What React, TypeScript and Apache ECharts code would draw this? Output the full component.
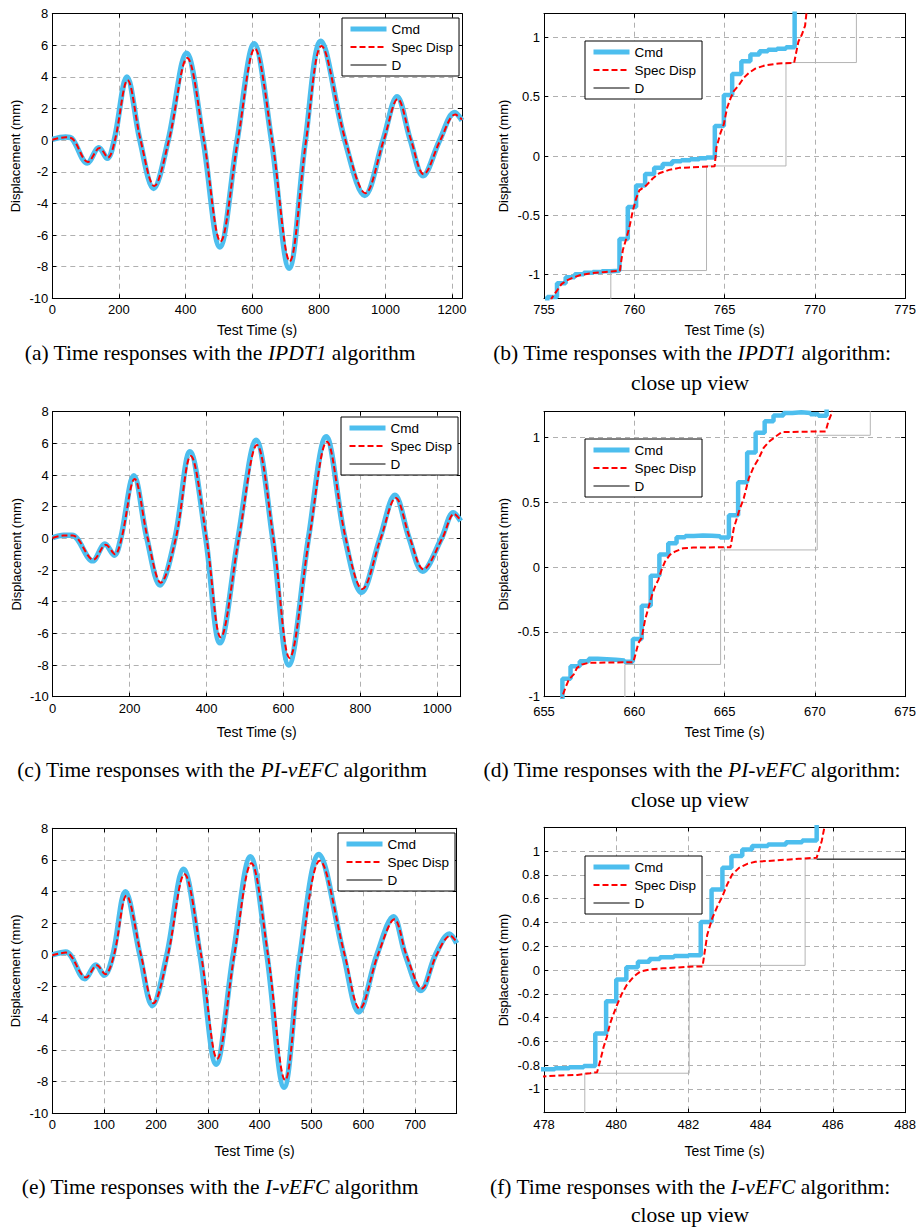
import React, { useEffect, useRef } from "react";
import * as echarts from "echarts";

// ---------- (a) IPDT1, full test ----------
const A_CMD: number[][] = [[0,0.05],[40,0.2],[58,0.12],[105,-1.45],[140,-0.48],[165,-1.15],[186,0],[224,4.0],[263,0],[304,-3.05],[348,0],[403,5.5],[453,0],[503,-6.75],[555,0],[606,6.1],[658,0],[711,-8.1],[760,0],[806,6.25],[878,0],[938,-3.5],[993,0],[1035,2.75],[1075,0],[1113,-2.25],[1163,0],[1208,1.75],[1230,1.25]];
const A_SPEC: number[][] = [[0,0.03],[40,0.18],[60,0.1],[107,-1.38],[142,-0.5],[167,-1.1],[188,0],[226,3.8],[265,0],[306,-2.9],[350,0],[405,5.2],[455,0],[505,-6.4],[557,0],[608,5.8],[660,0],[713,-7.65],[762,0],[808,5.95],[880,0],[940,-3.35],[995,0],[1037,2.6],[1077,0],[1115,-2.15],[1165,0],[1210,1.62],[1230,1.3]];
const A_D = A_SPEC;

// ---------- (b) IPDT1, close up ----------
const B_CMD: number[][] = [[755.0,-1.35],[755.18,-1.19],[755.72,-1.073],[756.2,-1.023],[756.7,-0.998],[757.2,-0.985],[757.7,-0.978],[758.2,-0.972],[758.7,-0.968],[759.18,-0.70],[759.64,-0.43],[760.1,-0.249],[760.6,-0.151],[761.1,-0.10],[761.57,-0.067],[762.1,-0.045],[762.6,-0.035],[763.1,-0.028],[763.6,-0.02],[764.0,-0.012],[764.46,0.254],[764.96,0.514],[765.42,0.692],[765.93,0.798],[766.43,0.855],[766.93,0.883],[767.4,0.895],[767.9,0.905],[768.4,0.918],[768.88,1.3],[771,1.3]];
const B_SPEC: number[][] = [[755.3,-1.3],[755.42,-1.2],[755.7,-1.14],[755.97,-1.08],[756.25,-1.05],[756.61,-1.025],[756.98,-1.006],[757.53,-0.99],[758.26,-0.98],[759.2,-0.968],[759.37,-0.79],[759.55,-0.70],[759.73,-0.6],[759.92,-0.46],[760.1,-0.36],[760.28,-0.29],[760.65,-0.25],[761.02,-0.19],[761.38,-0.146],[761.93,-0.117],[762.48,-0.10],[763.04,-0.096],[764.45,-0.087],[764.55,0.072],[764.78,0.198],[764.96,0.268],[765.14,0.407],[765.33,0.486],[765.51,0.547],[765.79,0.598],[766.06,0.659],[766.34,0.70],[766.7,0.737],[767.25,0.765],[767.99,0.78],[768.85,0.785],[769.09,0.966],[769.27,1.02],[769.46,1.1],[769.6,1.3]];
const B_D: number[][] = [[755,-1.3],[758.7,-0.966],[764.0,-0.084],[768.4,0.788],[772.3,1.3],[776,1.3]];

// ---------- (c) PI-vEFC, full test ----------
const C_CMD: number[][] = [[0,0.04],[28,0.2],[50,0.2],[104,-1.42],[136,-0.36],[160,-1.07],[177,0],[211,3.95],[245,0],[279,-2.95],[318,0],[357,5.47],[398,0],[435,-6.6],[482,0],[529,6.2],[572,0],[614,-8.0],[665,0],[711,6.42],[760,0],[803,-3.42],[851,0],[890,2.72],[927,0],[962,-2.07],[1011,0],[1042,1.62],[1061,1.1]];
const C_SPEC: number[][] = [[0,0.02],[28,0.18],[52,0.18],[106,-1.35],[138,-0.4],[162,-1.0],[179,0],[213,3.75],[247,0],[281,-2.8],[320,0],[359,5.2],[400,0],[437,-6.25],[484,0],[531,5.9],[574,0],[616,-7.55],[667,0],[713,6.1],[762,0],[805,-3.2],[853,0],[892,2.55],[929,0],[964,-1.95],[1013,0],[1044,1.55],[1061,1.15]];
const C_D = C_SPEC;

// ---------- (d) PI-vEFC, close up ----------
const D_CMD: number[][] = [[655,-1.1],[656.02,-0.862],[656.47,-0.765],[656.98,-0.726],[657.48,-0.708],[657.98,-0.71],[658.48,-0.715],[658.98,-0.72],[659.45,-0.73],[659.92,-0.554],[660.41,-0.298],[660.91,-0.067],[661.39,0.097],[661.88,0.184],[662.34,0.23],[662.82,0.241],[663.3,0.245],[663.8,0.243],[664.3,0.238],[664.75,0.228],[665.24,0.40],[665.75,0.656],[666.25,0.886],[666.72,1.037],[667.22,1.126],[667.71,1.17],[668.26,1.19],[668.75,1.195],[669.25,1.19],[669.75,1.18],[670.2,1.168],[670.65,1.3],[672,1.3]];
const D_SPEC: number[][] = [[655.95,-1.05],[656.01,-1.0],[656.19,-0.93],[656.38,-0.867],[656.65,-0.828],[656.83,-0.777],[657.11,-0.751],[657.48,-0.738],[659.95,-0.734],[660.23,-0.585],[660.41,-0.546],[660.6,-0.405],[660.78,-0.315],[660.96,-0.226],[661.15,-0.149],[661.33,-0.098],[661.51,-0.021],[661.7,0.043],[661.97,0.095],[662.25,0.12],[662.71,0.146],[663.26,0.151],[665.33,0.154],[665.51,0.30],[665.79,0.428],[666.06,0.531],[666.34,0.685],[666.61,0.774],[666.89,0.838],[667.16,0.92],[667.44,0.966],[667.8,1.005],[668.17,1.043],[670.6,1.048],[670.74,1.12],[670.92,1.185],[671.0,1.3]];
const D_D: number[][] = [[655,-1.1],[659.48,-0.751],[664.78,0.133],[670.13,1.018],[673.07,1.3],[676,1.3]];

// ---------- (e) I-vEFC, full test ----------
const E_CMD: number[][] = [[0,0],[26,0.18],[63,-1.5],[84,-0.63],[100,-1.28],[117,0],[141,4.0],[169,0],[193,-3.2],[221,0],[253,5.41],[285,0],[316,-6.9],[349,0],[382,6.2],[414,0],[447,-8.35],[478,0],[514,6.35],[562,0],[591,-3.6],[626,0],[658,2.42],[681,0],[711,-2.25],[739,0],[766,1.33],[780,0.74]];
const E_SPEC: number[][] = [[0,-0.02],[26,0.15],[65,-1.42],[86,-0.65],[102,-1.22],[119,0],[143,3.75],[171,0],[195,-3.05],[223,0],[255,5.1],[287,0],[318,-6.55],[351,0],[384,5.8],[416,0],[449,-7.9],[480,0],[516,5.95],[564,0],[593,-3.4],[628,0],[660,2.25],[683,0],[713,-2.12],[741,0],[768,1.22],[780,0.8]];
const E_D = E_SPEC;

// ---------- (f) I-vEFC, close up ----------
const F_CMD: number[][] = [[477.9,-0.835],[478.3,-0.826],[478.7,-0.818],[479.1,-0.808],[479.42,-0.535],[479.72,-0.262],[480.0,-0.079],[480.28,0.023],[480.6,0.07],[480.92,0.093],[481.21,0.107],[481.6,0.117],[482.0,0.125],[482.34,0.403],[482.64,0.676],[482.94,0.859],[483.19,0.958],[483.49,1.014],[483.76,1.043],[484.2,1.055],[484.7,1.075],[485.15,1.09],[485.55,1.3],[487,1.3]];
const F_SPEC: number[][] = [[477.9,-0.896],[478.46,-0.887],[478.92,-0.882],[479.28,-0.868],[479.47,-0.859],[479.56,-0.76],[479.65,-0.648],[479.74,-0.563],[479.83,-0.45],[479.93,-0.366],[480.02,-0.296],[480.16,-0.197],[480.29,-0.127],[480.48,-0.056],[480.66,-0.014],[480.94,0.006],[481.3,0.014],[482.04,0.028],[482.39,0.03],[482.52,0.296],[482.66,0.437],[482.8,0.535],[482.94,0.62],[483.07,0.718],[483.21,0.803],[483.4,0.859],[483.63,0.893],[483.85,0.91],[484.4,0.921],[485.05,0.935],[485.55,0.944],[485.69,1.085],[485.78,1.225],[485.82,1.3]];
const F_D: number[][] = [[478,-1.3],[479.13,-0.868],[482.02,0.039],[485.23,0.932],[488,0.932]];
const F_D_TAIL: number[][] = [[485.55,0.932],[488,0.932]];

const X_NAME = "Test Time (s)";
const Y_NAME = "Displacement (mm)";

const SANS = "Arial, 'Liberation Sans', sans-serif";
const SERIF = "'Times New Roman', 'Liberation Serif', serif";
const BLUE = "#4DBEEE";
const RED = "#FF0000";
const GRAY = "#B4B4B4";
const GRID_GRAY = "#B0B0B0";
const TICK_FS = 13;
const XNAME_FS = 14;
const YNAME_FS = 13;
const LEGEND_FS = 13.5;
const CAP_FS = 21.5;

type Panel = {
  box: [number, number, number, number];
  x: [number, number, number];
  y: [number, number, number | null];
  yLabelMax: number;
  cmd: number[][];
  spec: number[][];
  d: number[][];
  dTail?: number[][];
  closeUp: boolean;
  legend: [number, number];
  xGap: number;
  yGap: number;
  xMargin: number;
};

const PANELS: Panel[] = [
  { box: [52.3, 13.7, 409.7, 284.6], x: [0, 1230, 200], y: [-10, 8, 2], yLabelMax: 99, cmd: A_CMD, spec: A_SPEC, d: A_D, closeUp: false, legend: [342, 18], xGap: 25, yGap: 30, xMargin: 5 },
  { box: [544, 13.7, 363.3, 284.6], x: [755, 775, 5], y: [-1.2, 1.2, null], yLabelMax: 1.01, cmd: B_CMD, spec: B_SPEC, d: B_D, closeUp: true, legend: [585, 41], xGap: 25, yGap: 34, xMargin: 5 },
  { box: [52.7, 411.7, 408, 285], x: [0, 1061, 200], y: [-10, 8, 2], yLabelMax: 99, cmd: C_CMD, spec: C_SPEC, d: C_D, closeUp: false, legend: [341, 417], xGap: 28, yGap: 30, xMargin: 5 },
  { box: [544, 411.7, 363.3, 285], x: [655, 675, 5], y: [-1, 1.2, 0.5], yLabelMax: 1.01, cmd: D_CMD, spec: D_SPEC, d: D_D, closeUp: true, legend: [585, 439], xGap: 28, yGap: 34, xMargin: 8 },
  { box: [52.3, 828.3, 404.4, 285], x: [0, 780, 100], y: [-10, 8, 2], yLabelMax: 99, cmd: E_CMD, spec: E_SPEC, d: E_D, closeUp: false, legend: [338, 833], xGap: 31, yGap: 30, xMargin: 5 },
  { box: [544, 827.3, 363.3, 285.4], x: [478, 488, 2], y: [-1.2, 1.2, 0.2], yLabelMax: 1.01, cmd: F_CMD, spec: F_SPEC, d: F_D, dTail: F_D_TAIL, closeUp: true, legend: [585, 856], xGap: 31, yGap: 34, xMargin: 5 },
];

const CAPTIONS: { x: number; y: number; pre: string; it: string; post: string }[] = [
  { x: 220, y: 353, pre: "(a) Time responses with the ", it: "IPDT1", post: " algorithm" },
  { x: 692, y: 353, pre: "(b) Time responses with the ", it: "IPDT1", post: " algorithm:" },
  { x: 222, y: 770, pre: "(c) Time responses with the ", it: "PI-vEFC", post: " algorithm" },
  { x: 692, y: 770, pre: "(d) Time responses with the ", it: "PI-vEFC", post: " algorithm:" },
  { x: 220, y: 1187, pre: "(e) Time responses with the ", it: "I-vEFC", post: " algorithm" },
  { x: 690, y: 1187, pre: "(f) Time responses with the ", it: "I-vEFC", post: " algorithm:" },
];
const SUBLINES: { x: number; y: number; text: string }[] = [
  { x: 690, y: 383, text: "close up view" },
  { x: 690, y: 800, text: "close up view" },
  { x: 690, y: 1215, text: "close up view" },
];

function isMultiple(v: number, step: number) {
  const r = v / step;
  return Math.abs(r - Math.round(r)) < 1e-6;
}
function fmt(v: number) {
  if (Math.abs(v) < 1e-9) return "0";
  return String(Number(v.toFixed(2)));
}

function buildOption() {
  const grid: any[] = [];
  const xAxis: any[] = [];
  const yAxis: any[] = [];
  const series: any[] = [];
  const legend: any[] = [];
  const graphic: any[] = [];

  PANELS.forEach((p, i) => {
    const [left, top, width, height] = p.box;
    grid.push({ left, top, width, height, containLabel: false });
    const axisLine = { show: true, onZero: false, lineStyle: { color: "#000", width: 1 } };
    const tick = { show: true, inside: true, length: 4, lineStyle: { color: "#000", width: 1 } };
    const split = { show: true, lineStyle: { color: GRID_GRAY, width: 1, type: [5, 4] } };
    const xStep = p.x[2];
    const yStep = p.y[2] ?? 0.5;
    const xBase: any = { type: "value", gridIndex: i, min: p.x[0], max: p.x[1], interval: xStep };
    const yBase: any = { type: "value", gridIndex: i, min: p.y[0], max: p.y[1] };
    if (p.y[2] != null) yBase.interval = p.y[2];
    else yBase.splitNumber = 5;

    xAxis.push({
      ...xBase,
      position: "bottom",
      axisLine, axisTick: tick, splitLine: split,
      axisLabel: {
        show: true, margin: p.xMargin, color: "#000", fontSize: TICK_FS, fontFamily: SANS,
        formatter: (v: number) => (isMultiple(v, xStep) ? fmt(v) : ""),
      },
      name: X_NAME, nameLocation: "middle", nameGap: p.xGap,
      nameTextStyle: { color: "#000", fontSize: XNAME_FS, fontFamily: SANS },
    });
    xAxis.push({
      ...xBase,
      position: "top",
      axisLine, axisTick: tick, splitLine: { show: false }, axisLabel: { show: false },
    });
    yAxis.push({
      ...yBase,
      position: "left",
      axisLine, axisTick: tick, splitLine: split,
      axisLabel: {
        show: true, margin: 4, color: "#000", fontSize: TICK_FS, fontFamily: SANS,
        formatter: (v: number) => (isMultiple(v, yStep) && Math.abs(v) <= p.yLabelMax ? fmt(v) : ""),
      },
      name: Y_NAME, nameLocation: "middle", nameGap: p.yGap, nameRotate: 90,
      nameTextStyle: { color: "#000", fontSize: YNAME_FS, fontFamily: SANS },
    });
    yAxis.push({
      ...yBase,
      position: "right",
      axisLine, axisTick: tick, splitLine: { show: false }, axisLabel: { show: false },
    });

    const common = {
      type: "line",
      xAxisIndex: 2 * i,
      yAxisIndex: 2 * i,
      symbol: "none",
      showSymbol: false,
      clip: true,
      silent: true,
      smooth: p.closeUp ? false : 0.35,
    };
    series.push({
      ...common, name: "D", data: p.d, step: p.closeUp ? "end" : false, z: 2,
      lineStyle: { color: GRAY, width: 1 }, itemStyle: { color: GRAY },
    });
    series.push({
      ...common, name: "Cmd", data: p.cmd, step: p.closeUp ? "end" : false, z: 3,
      lineStyle: { color: BLUE, width: p.closeUp ? 4.5 : 5.5 }, itemStyle: { color: BLUE },
    });
    series.push({
      ...common, name: "Spec Disp", data: p.spec, z: 4,
      lineStyle: { color: RED, width: 2, type: [6, 3] }, itemStyle: { color: RED },
    });
    if (p.dTail) {
      series.push({
        ...common, name: "D", data: p.dTail, z: 5,
        lineStyle: { color: "#000", width: 1 }, itemStyle: { color: "#000" },
      });
    }

    legend.push({
      left: p.legend[0], top: p.legend[1], orient: "vertical",
      itemWidth: 36, itemHeight: 14, itemGap: 4,
      padding: [4, 6, 4, 6],
      borderColor: "#000", borderWidth: 1, backgroundColor: "#fff",
      selectedMode: false, z: 10,
      itemStyle: { opacity: 0 },
      textStyle: { color: "#000", fontSize: LEGEND_FS, fontFamily: SANS },
      data: [
        { name: "Cmd", lineStyle: { color: BLUE, width: 5 } },
        { name: "Spec Disp", lineStyle: { color: RED, width: 2, type: [6, 3] } },
        { name: "D", lineStyle: { color: "#000", width: 1, type: "solid" } },
      ],
    });
  });

  const rich = {
    n: { fontFamily: SERIF, fontSize: CAP_FS, fill: "#000" },
    i: { fontFamily: SERIF, fontSize: CAP_FS, fontStyle: "italic", fill: "#000" },
  };
  CAPTIONS.forEach((c) => {
    graphic.push({
      type: "text", x: c.x, y: c.y, silent: true,
      style: {
        text: `{n|${c.pre}}{i|${c.it}}{n|${c.post}}`,
        rich, fill: "#000", fontFamily: SERIF, fontSize: CAP_FS,
        align: "center", verticalAlign: "middle",
      },
    });
  });
  SUBLINES.forEach((s) => {
    graphic.push({
      type: "text", x: s.x, y: s.y, silent: true,
      style: { text: s.text, fill: "#000", font: `${CAP_FS}px ${SERIF}`, align: "center", verticalAlign: "middle" },
    });
  });

  return {
    animation: false,
    backgroundColor: "#fff",
    grid, xAxis, yAxis, series, legend, graphic,
  };
}

export default function App() {
  const ref = useRef<HTMLDivElement>(null);
  useEffect(() => {
    document.body.style.margin = "0";
    if (!ref.current) return;
    const chart = echarts.init(ref.current, undefined, { renderer: "svg" });
    chart.setOption(buildOption() as any);
    return () => chart.dispose();
  }, []);
  return <div ref={ref} style={{ width: 919, height: 1228, background: "#fff" }} />;
}
